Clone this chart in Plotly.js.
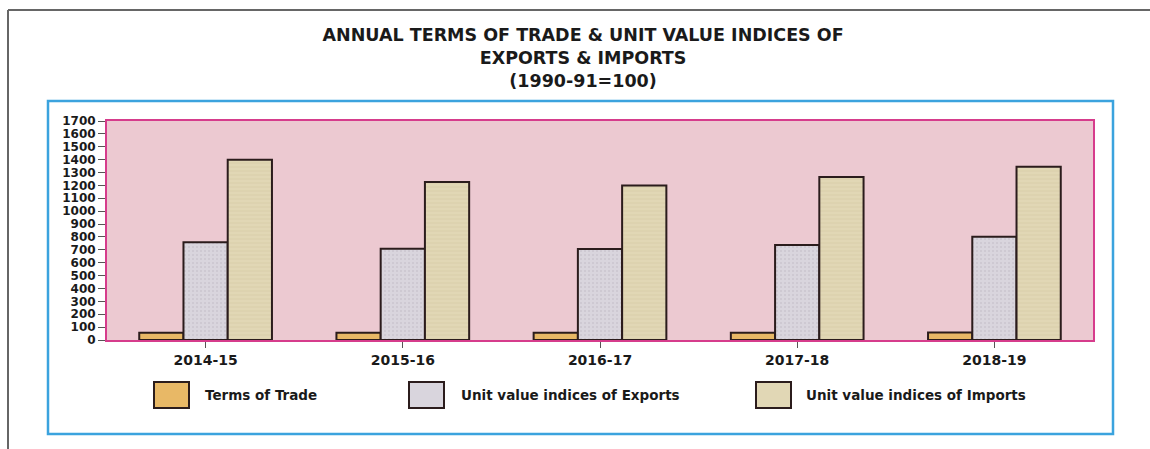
<!DOCTYPE html>
<html>
<head>
<meta charset="utf-8">
<script src="https://cdn.plot.ly/plotly-3.0.1.min.js"></script>
<style>html,body{margin:0;padding:0;background:#fff;}#chart{width:1150px;height:449px;}</style>
</head>
<body>
<div id="chart"></div>
<script>
const categories = ['2014-15', '2015-16', '2016-17', '2017-18', '2018-19'];
const seriesNames = ['Terms of Trade', 'Unit value indices of Exports', 'Unit value indices of Imports'];
const termsOfTrade = [56, 57, 57, 57, 58];
const exportsUVI = [758, 709, 707, 738, 802];
const importsUVI = [1400, 1227, 1200, 1265, 1345];
const titleText = 'ANNUAL TERMS OF TRADE &amp; UNIT VALUE INDICES OF<br>EXPORTS &amp; IMPORTS<br>(1990-91=100)';

const W = 1150, H = 449;
const M = {l: 107, r: 57, t: 121, b: 109};
const PW = W - M.l - M.r, PH = H - M.t - M.b;
const px = x => (x - M.l) / PW;
const py = y => (H - M.b - y) / PH;

const fills = ['#e8b866', '#d9d5dd', '#e1d7b5'];
const patterns = [
  {shape: ''},
  {shape: '.', bgcolor: '#d9d5dd', fgcolor: '#cbc6cf', size: 4, solidity: 0.2},
  {shape: '-', bgcolor: '#e1d7b5', fgcolor: '#d7cca7', size: 4, solidity: 0.2}
];
const values = [termsOfTrade, exportsUVI, importsUVI];

const traces = values.map((v, i) => ({
  type: 'bar', x: categories, y: v, name: seriesNames[i],
  marker: {color: fills[i], line: {color: '#2b1c1c', width: 2}, pattern: patterns[i]},
  showlegend: false, hoverinfo: 'x+y+name'
}));

const shapes = [
  {type: 'line', xref: 'paper', yref: 'paper', x0: px(8), x1: px(1150), y0: py(10), y1: py(10), line: {color: '#666', width: 2}},
  {type: 'line', xref: 'paper', yref: 'paper', x0: px(8), x1: px(8), y0: py(10), y1: py(449), line: {color: '#666', width: 2}},
  {type: 'rect', xref: 'paper', yref: 'paper', x0: px(48), x1: px(1113), y0: py(434), y1: py(101), line: {color: '#3ba3de', width: 2.5}, fillcolor: 'rgba(0,0,0,0)', layer: 'below'}
];
const annotations = [];
const legX = [154, 409, 756];
const legTextX = [203, 459, 804];
for (let i = 0; i < 3; i++) {
  shapes.push({type: 'rect', xref: 'paper', yref: 'paper', x0: px(legX[i]), x1: px(legX[i] + 35), y0: py(408), y1: py(382),
    fillcolor: fills[i], line: {color: '#2b1c1c', width: 2}});
  annotations.push({xref: 'paper', yref: 'paper', x: px(legTextX[i]), y: py(395), xanchor: 'left', yanchor: 'middle',
    text: seriesNames[i], showarrow: false, font: {family: 'DejaVu Sans', size: 13.5, color: '#1a1a1a', weight: 'bold'}});
}

const layout = {
  width: W, height: H,
  margin: M,
  paper_bgcolor: '#ffffff',
  plot_bgcolor: '#ecc9d1',
  title: {text: titleText, x: 0.507, xanchor: 'center', y: 1 - 41 / H, yanchor: 'top', yref: 'container',
    font: {family: 'DejaVu Sans', size: 17.5, color: '#1a1a1a', weight: 'bold'}},
  barmode: 'group', bargap: 0.327, bargroupgap: 0,
  xaxis: {type: 'category', range: [-0.5, 4.5], showline: true, mirror: true, linecolor: '#d63c8c', linewidth: 2,
    ticks: 'outside', ticklen: 6, tickcolor: '#555', tickwidth: 1,
    tickfont: {family: 'DejaVu Sans', size: 14, color: '#1a1a1a', weight: 'bold'}, showgrid: false, fixedrange: true},
  yaxis: {range: [0, 1700], dtick: 100, tick0: 0, showline: true, mirror: true, linecolor: '#d63c8c', linewidth: 2,
    ticks: 'outside', ticklen: 7, tickcolor: '#555', tickwidth: 1,
    tickfont: {family: 'DejaVu Sans', size: 12, color: '#1a1a1a', weight: 'bold'}, showgrid: false, zeroline: false, fixedrange: true},
  shapes: shapes,
  annotations: annotations
};

Plotly.newPlot('chart', traces, layout, {displayModeBar: false, staticPlot: true});
</script>
</body>
</html>
